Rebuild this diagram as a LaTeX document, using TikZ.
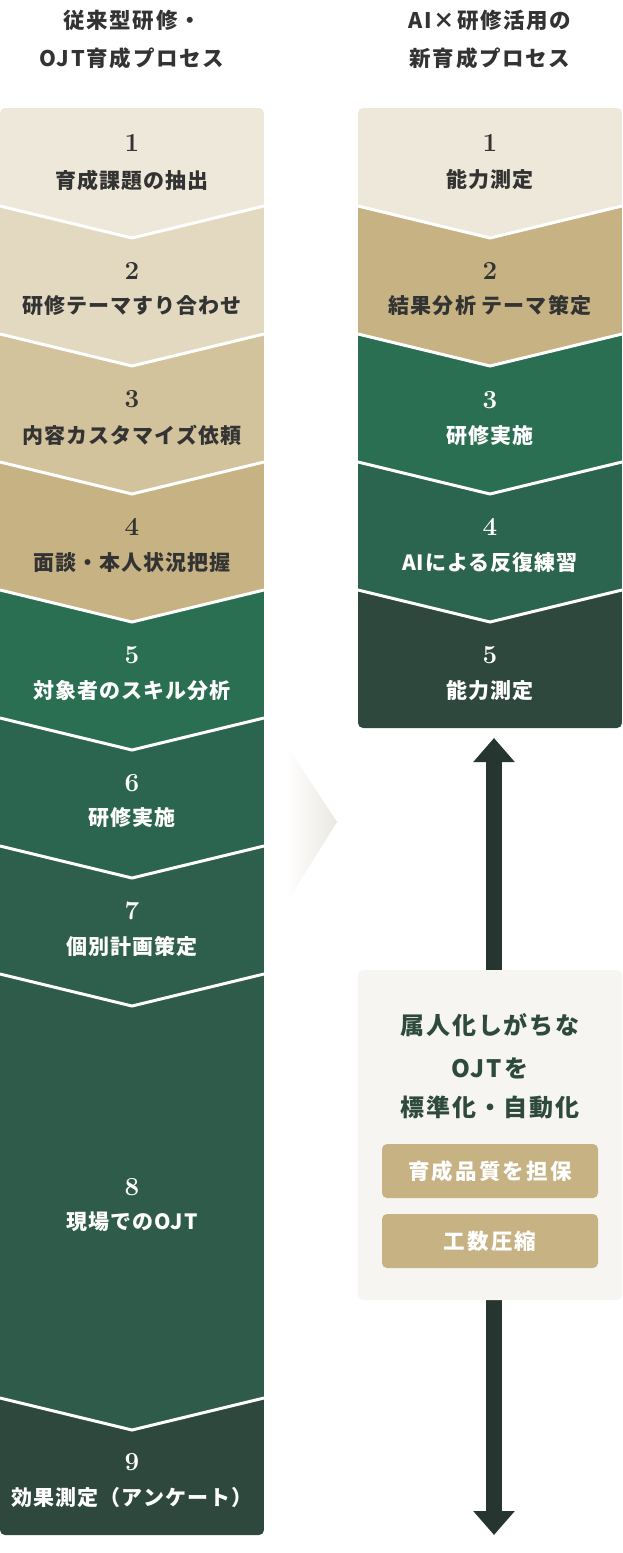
\documentclass[tikz,border=0pt]{standalone}
\usepackage{fontspec}
\usetikzlibrary{arrows.meta}
\newfontfamily\headfont{Noto Sans CJK JP}[LetterSpace=8]
\newfontfamily\labelfont{Noto Sans CJK JP}[LetterSpace=5]
\newfontfamily\panelfont{Noto Sans CJK JP}[LetterSpace=8]
\newfontfamily\tagfont{Noto Sans CJK JP}[LetterSpace=10]

\definecolor{stage1}{HTML}{EDE8D9}
\definecolor{stage2}{HTML}{E2D9C0}
\definecolor{stage3}{HTML}{D3C39C}
\definecolor{stage4}{HTML}{C6B282}
\definecolor{stage5}{HTML}{2B6F53}
\definecolor{stage6}{HTML}{2C654F}
\definecolor{stage7}{HTML}{2E5E4C}
\definecolor{stage8}{HTML}{2F5B4A}
\definecolor{stage9}{HTML}{2E483E}
\definecolor{ink}{HTML}{333333}
\definecolor{panel-bg}{HTML}{F6F5F1}
\definecolor{panel-ink}{HTML}{2E4A3F}
\definecolor{arrow-ink}{HTML}{26352F}
\definecolor{fade}{HTML}{EBE8E1}

\tikzstyle{head-text}=[inner sep=0pt, text=ink, font={\headfont\bfseries\fontsize{21.5}{24}\selectfont}]
\tikzstyle{step-num}=[inner sep=0pt, font={\bfseries\fontsize{26}{26}\selectfont}]
\tikzstyle{step-text}=[inner sep=0pt, font={\labelfont\bfseries\fontsize{21}{22}\selectfont}]
\tikzstyle{dark}=[text=ink]
\tikzstyle{light}=[text=white]
\tikzstyle{sep-line}=[draw=white, line width=3pt]
\tikzstyle{panel}=[fill=panel-bg, rounded corners=6pt, minimum width=264pt, minimum height=330pt, inner sep=0pt]
\tikzstyle{panel-text}=[inner sep=0pt, text=panel-ink, font={\panelfont\bfseries\fontsize{24}{26}\selectfont}]
\tikzstyle{merit-tag}=[fill=stage4, rounded corners=5pt, minimum width=216pt, minimum height=54pt, inner sep=0pt, text=white, font={\tagfont\bfseries\fontsize{21.5}{24}\selectfont}]
\tikzstyle{loop-arrow}=[draw=arrow-ink, line width=16pt, {Triangle[width=40pt,length=24pt]}-{Triangle[width=40pt,length=24pt]}]

\begin{document}
\begin{tikzpicture}[x=1pt, y=-1pt]
  \useasboundingbox[fill=white] (0,0) rectangle (622,1553);

  \node (conv-head1) at (132, 20) [head-text] {従来型研修・};
  \node (conv-head2) at (132, 58) [head-text] {OJT育成プロセス};
  \node (ai-head1) at (490, 20) [head-text] {AI×研修活用の};
  \node (ai-head2) at (490, 58) [head-text] {新育成プロセス};

  \begin{scope}
    \clip[rounded corners=5pt] (0,108) rectangle (264,1535);
    \fill[stage1] (0,100) -- (264,100) -- (264,206) -- (132,238) -- (0,206) -- cycle;
    \fill[stage2] (0,206) -- (132,238) -- (264,206) -- (264,334) -- (132,366) -- (0,334) -- cycle;
    \fill[stage3] (0,334) -- (132,366) -- (264,334) -- (264,462) -- (132,494) -- (0,462) -- cycle;
    \fill[stage4] (0,462) -- (132,494) -- (264,462) -- (264,590) -- (132,622) -- (0,590) -- cycle;
    \fill[stage5] (0,590) -- (132,622) -- (264,590) -- (264,718) -- (132,750) -- (0,718) -- cycle;
    \fill[stage6] (0,718) -- (132,750) -- (264,718) -- (264,846) -- (132,878) -- (0,846) -- cycle;
    \fill[stage7] (0,846) -- (132,878) -- (264,846) -- (264,974) -- (132,1006) -- (0,974) -- cycle;
    \fill[stage8] (0,974) -- (132,1006) -- (264,974) -- (264,1398) -- (132,1430) -- (0,1398) -- cycle;
    \fill[stage9] (0,1398) -- (132,1430) -- (264,1398) -- (264,1540) -- (0,1540) -- cycle;
    \draw[sep-line] (0,206) -- (132,238) -- (264,206);
    \draw[sep-line] (0,334) -- (132,366) -- (264,334);
    \draw[sep-line] (0,462) -- (132,494) -- (264,462);
    \draw[sep-line] (0,590) -- (132,622) -- (264,590);
    \draw[sep-line] (0,718) -- (132,750) -- (264,718);
    \draw[sep-line] (0,846) -- (132,878) -- (264,846);
    \draw[sep-line] (0,974) -- (132,1006) -- (264,974);
    \draw[sep-line] (0,1398) -- (132,1430) -- (264,1398);
  \end{scope}

  \node (conv1) at (132, 143) [step-num, dark] {1};
  \node (conv1-text) at (132, 180) [step-text, dark] {育成課題の抽出};
  \node (conv2) at (132, 271) [step-num, dark] {2};
  \node (conv2-text) at (132, 306) [step-text, dark] {研修テーマすり合わせ};
  \node (conv3) at (132, 399) [step-num, dark] {3};
  \node (conv3-text) at (132, 435) [step-text, dark] {内容カスタマイズ依頼};
  \node (conv4) at (132, 527) [step-num, dark] {4};
  \node (conv4-text) at (132, 563) [step-text, dark] {面談・本人状況把握};
  \node (conv5) at (132, 655) [step-num, light] {5};
  \node (conv5-text) at (132, 691) [step-text, light] {対象者のスキル分析};
  \node (conv6) at (132, 783) [step-num, light] {6};
  \node (conv6-text) at (132, 818) [step-text, light] {研修実施};
  \node (conv7) at (132, 911) [step-num, light] {7};
  \node (conv7-text) at (132, 946) [step-text, light] {個別計画策定};
  \node (conv8) at (132, 1187) [step-num, light] {8};
  \node (conv8-text) at (132, 1222) [step-text, light] {現場でのOJT};
  \node (conv9) at (132, 1462) [step-num, light] {9};
  \node (conv9-text) at (132, 1498) [step-text, light] {効果測定（アンケート）};

  \shade[left color=white, right color=fade] (285,743) -- (337,822) -- (285,905) -- cycle;

  \begin{scope}
    \clip[rounded corners=5pt] (358,108) rectangle (622,728);
    \fill[stage1] (358,100) -- (622,100) -- (622,206) -- (490,238) -- (358,206) -- cycle;
    \fill[stage4] (358,206) -- (490,238) -- (622,206) -- (622,334) -- (490,366) -- (358,334) -- cycle;
    \fill[stage5] (358,334) -- (490,366) -- (622,334) -- (622,462) -- (490,494) -- (358,462) -- cycle;
    \fill[stage6] (358,462) -- (490,494) -- (622,462) -- (622,590) -- (490,622) -- (358,590) -- cycle;
    \fill[stage9] (358,590) -- (490,622) -- (622,590) -- (622,735) -- (358,735) -- cycle;
    \draw[sep-line] (358,206) -- (490,238) -- (622,206);
    \draw[sep-line] (358,334) -- (490,366) -- (622,334);
    \draw[sep-line] (358,462) -- (490,494) -- (622,462);
    \draw[sep-line] (358,590) -- (490,622) -- (622,590);
  \end{scope}

  \node (ai1) at (490, 143) [step-num, dark] {1};
  \node (ai1-text) at (490, 180) [step-text, dark] {能力測定};
  \node (ai2) at (490, 271) [step-num, dark] {2};
  \node (ai2-text) at (490, 306) [step-text, dark] {結果分析 テーマ策定};
  \node (ai3) at (490, 400) [step-num, light] {3};
  \node (ai3-text) at (490, 436) [step-text, light] {研修実施};
  \node (ai4) at (490, 527) [step-num, light] {4};
  \node (ai4-text) at (490, 563) [step-text, light] {AIによる反復練習};
  \node (ai5) at (490, 655) [step-num, light] {5};
  \node (ai5-text) at (490, 691) [step-text, light] {能力測定};

  \coordinate (loop-top) at (494, 738);
  \coordinate (loop-bottom) at (494, 1535);
  \draw[loop-arrow] (loop-top) -- (loop-bottom);

  \node (panel) at (490, 1135) [panel] {};
  \node (panel-line1) at (490, 1025) [panel-text] {属人化しがちな};
  \node (panel-line2) at (490, 1068) [panel-text] {OJTを};
  \node (panel-line3) at (490, 1107) [panel-text] {標準化・自動化};
  \node (merit1) at (490, 1171) [merit-tag] {育成品質を担保};
  \node (merit2) at (490, 1241) [merit-tag] {工数圧縮};
\end{tikzpicture}
\end{document}
